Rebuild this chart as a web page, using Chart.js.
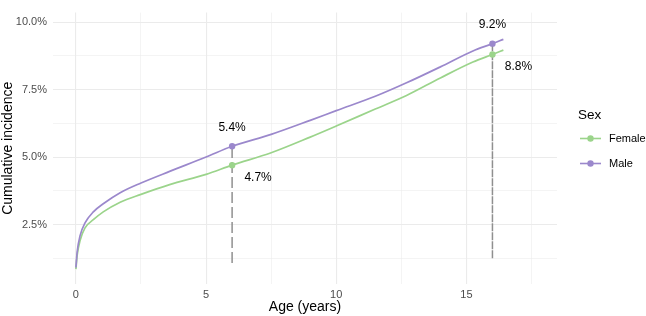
<!DOCTYPE html>
<html>
<head>
<meta charset="utf-8">
<script src="https://cdn.jsdelivr.net/npm/chart.js@4.4.1/dist/chart.umd.min.js"></script>
<style>
  html, body { margin: 0; padding: 0; background: #fff; }
  #wrap { width: 646px; height: 316px; }
</style>
</head>
<body>
<div id="wrap"><canvas id="chart" width="646" height="316"></canvas></div>
<script>
// cumulative incidence (%) by age
const ages   = [0, 0.05, 0.16, 0.35, 0.67, 1.05, 1.7, 2.5, 3.6, 5, 6, 7.5, 9, 10, 11.5, 12.7, 14, 15.25, 16, 16.42];
const female = [0.85, 1.38, 1.91, 2.38, 2.68, 2.97, 3.33, 3.62, 3.98, 4.36, 4.7, 5.16, 5.74, 6.15, 6.78, 7.28, 7.93, 8.52, 8.8, 8.96];
const male   = [0.91, 1.5, 2.09, 2.56, 2.97, 3.27, 3.68, 4.04, 4.47, 5.0, 5.4, 5.84, 6.36, 6.72, 7.25, 7.75, 8.34, 8.93, 9.2, 9.36];

// highlighted ages and their values
const markAges    = [6, 16];
const femaleMarks = [4.7, 8.8];
const maleMarks   = [5.4, 9.2];
const guideBottom = [1.08, 1.25];

const xTicks = [0, 5, 10, 15];
const yTicks = [2.5, 5, 7.5, 10];

const GREEN = "#9bd48b";
const PURPLE = "#9b88cc";
const FONT = "'Liberation Sans', Arial, sans-serif";

const toXY = (xs, ys) => xs.map((x, i) => ({ x, y: ys[i] }));

const guides = markAges.map((a, i) => ({
  type: "line",
  data: [{ x: a, y: guideBottom[i] }, { x: a, y: maleMarks[i] }],
  borderColor: "#8f8f8f",
  borderWidth: 1.5,
  borderDash: i === 0 ? [11, 4] : [8, 1],
  pointRadius: 0,
  order: 3
}));

const extras = {
  id: "extras",
  afterDatasetsDraw(chart) {
    const { ctx, scales: { x, y } } = chart;
    ctx.save();
    ctx.font = "12px " + FONT;
    ctx.fillStyle = "#000";
    ctx.textAlign = "center";
    ctx.textBaseline = "middle";
    markAges.forEach((a, i) => {
      const px = x.getPixelForValue(a);
      ctx.fillText(maleMarks[i].toFixed(1) + "%", px, y.getPixelForValue(maleMarks[i]) - 18.5);
      ctx.fillText(femaleMarks[i].toFixed(1) + "%", px + 26, y.getPixelForValue(femaleMarks[i]) + 12.5);
    });

    // legend
    ctx.textAlign = "left";
    ctx.font = "13.5px " + FONT;
    ctx.fillText("Sex", 578, 115);
    ctx.font = "11px " + FONT;
    [["Female", GREEN, 138.5], ["Male", PURPLE, 163.5]].forEach(([lab, col, ly]) => {
      ctx.strokeStyle = col;
      ctx.lineWidth = 1.6;
      ctx.beginPath();
      ctx.moveTo(580, ly);
      ctx.lineTo(601, ly);
      ctx.stroke();
      ctx.fillStyle = col;
      ctx.beginPath();
      ctx.arc(590.5, ly, 3.2, 0, Math.PI * 2);
      ctx.fill();
      ctx.fillStyle = "#000";
      ctx.fillText(lab, 609, ly);
    });
    ctx.restore();
  }
};

const gridWidth = (ctx, majors) => majors.includes(ctx.tick.value) ? 1.1 : 0.55;

new Chart(document.getElementById("chart"), {
  type: "line",
  data: {
    datasets: [
      {
        type: "scatter",
        data: toXY(markAges, maleMarks),
        backgroundColor: PURPLE,
        pointRadius: 3.2,
        pointBorderWidth: 0,
        order: 0
      },
      {
        type: "scatter",
        data: toXY(markAges, femaleMarks),
        backgroundColor: GREEN,
        pointRadius: 3.2,
        pointBorderWidth: 0,
        order: 0
      },
      ...guides,
      {
        label: "Male",
        data: toXY(ages, male),
        borderColor: PURPLE,
        borderWidth: 1.7,
        pointRadius: 0,
        cubicInterpolationMode: "monotone",
        order: 5
      },
      {
        label: "Female",
        data: toXY(ages, female),
        borderColor: GREEN,
        borderWidth: 1.7,
        pointRadius: 0,
        cubicInterpolationMode: "monotone",
        order: 5
      }
    ]
  },
  options: {
    responsive: false,
    animation: false,
    layout: { padding: { left: 0, right: 89, top: 0, bottom: 0 } },
    plugins: { legend: { display: false }, tooltip: { enabled: false } },
    scales: {
      x: {
        type: "linear",
        min: -0.88,
        max: 18.48,
        afterBuildTicks: s => { s.ticks = [0, 2.5, 5, 7.5, 10, 12.5, 15, 17.5].map(v => ({ value: v })); },
        afterFit: s => { s.height = 32; },
        border: { display: false },
        grid: { color: "#ebebeb", lineWidth: c => gridWidth(c, xTicks), drawTicks: false },
        ticks: {
          autoSkip: false,
          maxRotation: 0,
          padding: 4,
          color: "#4d4d4d",
          font: { family: FONT, size: 11 },
          callback: v => xTicks.includes(v) ? String(v) : ""
        },
        title: { display: true, text: "Age (years)", color: "#000", font: { family: FONT, size: 14 }, padding: { top: 3, bottom: 0 } }
      },
      y: {
        min: 0.3,
        max: 10.35,
        afterBuildTicks: s => { s.ticks = [1.25, 2.5, 3.75, 5, 6.25, 7.5, 8.75, 10].map(v => ({ value: v })); },
        afterFit: s => { s.width = 53; },
        border: { display: false },
        grid: { color: "#ebebeb", lineWidth: c => gridWidth(c, yTicks), drawTicks: false },
        ticks: {
          autoSkip: false,
          padding: 6,
          color: "#4d4d4d",
          font: { family: FONT, size: 11 },
          callback: v => yTicks.includes(v) ? v.toFixed(1) + "%" : ""
        },
        title: { display: true, text: "Cumulative incidence", color: "#000", font: { family: FONT, size: 14 }, padding: { top: 0, bottom: 0 } }
      }
    }
  },
  plugins: [extras]
});
</script>
</body>
</html>
